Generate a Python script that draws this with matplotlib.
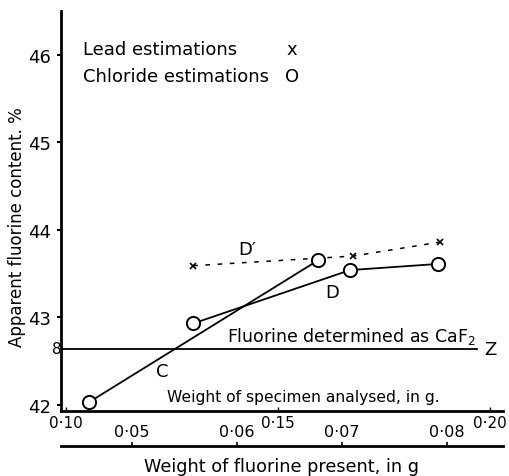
import numpy as np
import matplotlib
matplotlib.use('Agg')
import matplotlib.pyplot as plt

# Chloride estimations (circles), x = weight of specimen (g), y = apparent F %
chloride_w = [0.1054, 0.1300, 0.1594, 0.1670, 0.1877]
chloride_f = [42.03, 42.93, 43.65, 43.54, 43.61]

# Lead estimations (crosses)
lead_w = [0.1300, 0.1677, 0.1882]
lead_f = [43.59, 43.70, 43.86]

# line C joins chloride points 0 and 2, line D joins 1, 3, 4
line_c = [0, 2]
line_d = [1, 3, 4]

caf2_level = 42.64
caf2_end = 0.1969

y_ticks = [42, 43, 44, 45, 46]
spec_ticks = [0.10, 0.15, 0.20]
spec_labels = ['0\u00b710', '0\u00b715', '0\u00b720']
fluor_ticks = [0.05, 0.06, 0.07, 0.08]
fluor_labels = ['0\u00b705', '0\u00b706', '0\u00b707', '0\u00b708']

plt.rcParams['font.family'] = 'DejaVu Sans'
fs = 11

fig = plt.figure(figsize=(5.1, 4.77), dpi=100)
ax = fig.add_axes([61 / 510, 65 / 477, 442 / 510, 400 / 477])

cw = np.array(chloride_w)
cf = np.array(chloride_f)

# chloride lines
ax.plot(cw[line_c], cf[line_c], color='black', linewidth=1.3, zorder=2)
ax.plot(cw[line_d], cf[line_d], color='black', linewidth=1.3, zorder=2)

# lead estimations, dashed
ax.plot(lead_w, lead_f, linestyle=(0, (3, 5)), color='black', linewidth=1.1, zorder=1)
ax.plot(lead_w, lead_f, linestyle='none', marker='x', markersize=5,
        markeredgewidth=1.2, color='black', zorder=3)

ax.plot(cw, cf, linestyle='none', marker='o', markersize=9.5,
        markerfacecolor='white', markeredgecolor='black', markeredgewidth=1.4, zorder=4)

# CaF2 reference line
ax.plot([0.0988, caf2_end], [caf2_level, caf2_level], color='black', linewidth=1.3)
ax.text(0.2000, caf2_level, 'Z', fontsize=13, ha='center', va='center')
ax.text(0.0979, caf2_level, '8', fontsize=fs, ha='center', va='center', clip_on=False)
ax.text(0.1380, caf2_level + 0.15, 'Fluorine determined as CaF$_2$', fontsize=12.5,
        ha='left', va='center')

# curve labels
ax.text(0.1427, 43.78, "D\u2032", fontsize=13, ha='center', va='center')
ax.text(0.1627, 43.29, 'D', fontsize=13, ha='center', va='center')
ax.text(0.1226, 42.39, 'C', fontsize=13, ha='center', va='center')

# key
ax.text(0.1040, 46.07, 'Lead estimations', fontsize=13, ha='left', va='center')
ax.text(0.1533, 46.07, 'x', fontsize=13, ha='center', va='center')
ax.text(0.1040, 45.76, 'Chloride estimations', fontsize=13, ha='left', va='center')
ax.text(0.1533, 45.76, 'O', fontsize=13, ha='center', va='center')

ax.text(0.1238, 42.10, 'Weight of specimen analysed, in g.', fontsize=11.2,
        ha='left', va='center')

ax.set_xlim(0.09882, 0.20307)
ax.set_ylim(41.93, 46.50)
ax.spines['top'].set_visible(False)
ax.spines['right'].set_visible(False)
ax.spines['left'].set_linewidth(2)
ax.spines['bottom'].set_linewidth(2)

ax.set_yticks(y_ticks)
ax.set_yticklabels([str(t) for t in y_ticks], fontsize=13)
ax.tick_params(axis='y', direction='out', length=3, width=1.5, pad=4)
ax.set_xticks(spec_ticks)
ax.set_xticklabels(spec_labels, fontsize=fs)
ax.tick_params(axis='x', direction='in', length=3, width=1, pad=3)
ax.set_ylabel('Apparent fluorine content. %', fontsize=12)
ax.yaxis.set_label_coords(-0.08, 0.4625)

# second scale: weight of fluorine present
ax2 = fig.add_axes([61 / 510, 30 / 477, 442 / 510, 0.0001])
ax2.set_xlim(0.043238, 0.085333)
ax2.set_ylim(0, 1)
for side in ['bottom', 'left', 'right']:
    ax2.spines[side].set_visible(False)
ax2.spines['top'].set_linewidth(2)
ax2.set_yticks([])
ax2.xaxis.set_ticks_position('top')
ax2.xaxis.set_label_position('bottom')
ax2.set_xticks(fluor_ticks)
ax2.set_xticklabels(fluor_labels, fontsize=11.5)
ax2.tick_params(axis='x', direction='out', length=3, width=1.2, pad=2)
ax2.set_xlabel('Weight of fluorine present, in g', fontsize=12.7, labelpad=8)

fig.savefig('out.png', dpi=100)
